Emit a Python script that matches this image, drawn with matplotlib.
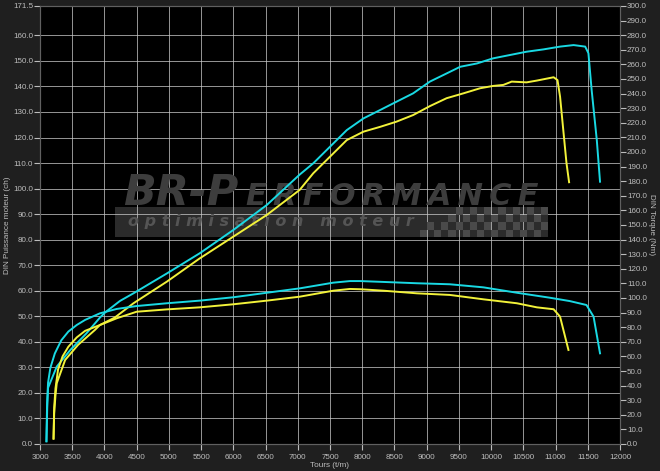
import matplotlib.pyplot as plt
from matplotlib.patches import Rectangle

plt.rcParams['font.family'] = ['Liberation Sans', 'DejaVu Sans']

# Puissance (ch) - courbe optimisee (cyan)
rpm_ch_opt = [3100, 3112, 3125, 3260, 3470, 3720, 3930, 4010, 4240, 4450, 4970, 5480, 6000, 6520,
              7030, 7240, 7500, 7760, 8020, 8280, 8530, 8790, 9050, 9310, 9520, 9780, 10030,
              10290, 10550, 10810, 11070, 11280, 11460, 11510, 11560, 11640, 11690]
ch_opt = [1, 14, 22, 30.3, 36.8, 43.3, 49.5, 51.5, 56.0, 59.0, 66.8, 74.7, 83.8, 93.6,
          105.5, 109.9, 116.4, 122.9, 127.5, 130.8, 134.0, 137.3, 141.9, 145.1, 147.7, 149.0, 151.0,
          152.3, 153.6, 154.5, 155.6, 156.2, 155.6, 153.0, 138.6, 119.0, 102.7]

# Couple (Nm) - courbe optimisee (cyan)
rpm_nm_opt = [3100, 3110, 3125, 3160, 3230, 3330, 3440, 3570, 3700, 3930, 4190, 4500, 4970,
              5480, 6000, 6520, 7030, 7550, 7810, 7970, 8330, 8850, 9360, 9880, 10400, 10910,
              11220, 11480, 11590, 11690]
nm_opt = [2, 28, 42, 52, 62, 71, 77, 81.5, 85, 89.5, 92.5, 94.5, 96.4,
          98.2, 100.5, 103.6, 106.6, 110.5, 111.6, 111.6, 111.0, 110.1, 109.4, 107.3, 103.6, 100.2,
          97.9, 95.2, 87.2, 62.1]

# Puissance (ch) - courbe origine (jaune)
rpm_ch_ori = [3210, 3220, 3240, 3260, 3390, 3590, 3850, 3930, 4160, 4450, 4970, 5480, 6000,
              6520, 7030, 7240, 7500, 7760, 8020, 8280, 8530, 8790, 9050, 9310, 9570, 9830,
              10030, 10190, 10320, 10550, 10710, 10970, 11030, 11070, 11120, 11170, 11210]
ch_ori = [2, 12, 19, 23.8, 32.9, 38.8, 44.6, 46.6, 49.5, 55.1, 63.6, 72.7, 81.2,
          89.7, 99.5, 106.0, 112.5, 119.0, 122.3, 124.2, 126.2, 128.8, 132.3, 135.4, 137.3, 139.3,
          140.2, 140.6, 141.9, 141.6, 142.3, 143.6, 142.5, 136.0, 122.9, 109.9, 102.5]

# Couple (Nm) - courbe origine (jaune)
rpm_nm_ori = [3210, 3220, 3240, 3280, 3350, 3440, 3570, 3700, 3930, 4190, 4500, 4970, 5480,
              6000, 6520, 7030, 7550, 7810, 7970, 8330, 8850, 9360, 9880, 10400, 10710, 10970,
              11070, 11200]
nm_ori = [4, 25, 38, 51, 60, 66.6, 73, 77.5, 81.5, 86.1, 90.6, 92.2, 93.6,
          95.7, 98.2, 100.9, 105.0, 106.2, 106.0, 105.0, 103.2, 102.1, 99.1, 96.4, 93.6, 92.3,
          87.2, 64.4]

x_ticks = list(range(3000, 12001, 500))
left_ticks = [i * 10 for i in range(17)] + [171.5]
right_ticks = [i * 10 for i in range(31)]

bg = '#1f1f1f'
txt = '#bdbdbd'
cyan = '#19d9e3'
yellow = '#f2f23a'

fig = plt.figure(figsize=(6.6, 4.71), dpi=100, facecolor=bg)
ax = fig.add_axes([40 / 660, 27 / 471, 580 / 660, 438 / 471])
ax.set_facecolor('black')
ax2 = ax.twinx()

ax.set_xlim(3000, 12000)
ax.set_ylim(0, 171.5)
ax2.set_ylim(0, 300)

ax.set_xticks(x_ticks)
ax.set_xticklabels([str(v) for v in x_ticks])
ax.set_yticks(left_ticks)
ax.set_yticklabels(['%.1f' % v for v in left_ticks])
ax2.set_yticks(right_ticks)
ax2.set_yticklabels(['%.1f' % v for v in right_ticks])

ax.grid(True, color='#c8c8c8', linewidth=0.7, alpha=0.75)
ax.set_axisbelow(True)

for a in (ax, ax2):
    a.tick_params(colors=txt, labelsize=5.8, length=4, width=0.8, direction='out', pad=1)
    for s in a.spines.values():
        s.set_color('#606060')
ax.tick_params(axis='x', pad=3)

ax.set_xlabel('Tours (t/m)', color=txt, fontsize=5.9, ha='center', va='center')
ax.set_ylabel('DIN Puissance moteur (ch)', color=txt, fontsize=5.9, ha='center', va='center')
ax2.set_ylabel('DIN Torque (Nm)', color=txt, fontsize=5.9, rotation=270, ha='center', va='center')
ax.xaxis.set_label_coords(0.5, -0.0495)
ax.yaxis.set_label_coords(-0.0552, 0.5)
ax2.yaxis.set_label_coords(1.055, 0.5)

# filigrane
wm = '#3d3d3d'
ax.add_patch(Rectangle((0.129, 0.4726), 0.747, 0.0685, transform=ax.transAxes,
                       facecolor='#2b2b2b', edgecolor='none', zorder=0.5))
ax.text(0.143, 0.545, 'BR-P', transform=ax.transAxes, fontsize=31, fontweight='bold',
        fontstyle='italic', color=wm, ha='left', va='baseline', zorder=0.6,
        family='DejaVu Sans')
ax.text(0.355, 0.545, '\u2009'.join('ERFORMANCE'), transform=ax.transAxes, fontsize=22,
        fontweight='bold', fontstyle='italic', color=wm, ha='left', va='baseline', zorder=0.6,
        family='DejaVu Sans')
ax.text(0.152, 0.507, 'o p t i m i s a t i o n   m o t e u r', transform=ax.transAxes,
        fontsize=11.5, fontweight='bold', fontstyle='italic', color='#555555',
        ha='left', va='center', zorder=0.6, family='DejaVu Sans')
cw, chh = 0.0123, 0.0171
for i in range(18):
    for j in range(4):
        if (i + j) % 2 == 0 and j <= (i + 1) // 2:
            ax.add_patch(Rectangle((0.655 + i * cw, 0.4726 + j * chh), cw, chh,
                                   transform=ax.transAxes, facecolor='#4a4a4a',
                                   edgecolor='none', zorder=0.55))

ax.plot(rpm_ch_ori, ch_ori, color=yellow, linewidth=1.4, zorder=3)
ax.plot(rpm_ch_opt, ch_opt, color=cyan, linewidth=1.4, zorder=3)
ax2.plot(rpm_nm_ori, nm_ori, color=yellow, linewidth=1.4, zorder=3)
ax2.plot(rpm_nm_opt, nm_opt, color=cyan, linewidth=1.4, zorder=3)

fig.savefig('out.png', dpi=100, facecolor=bg)
